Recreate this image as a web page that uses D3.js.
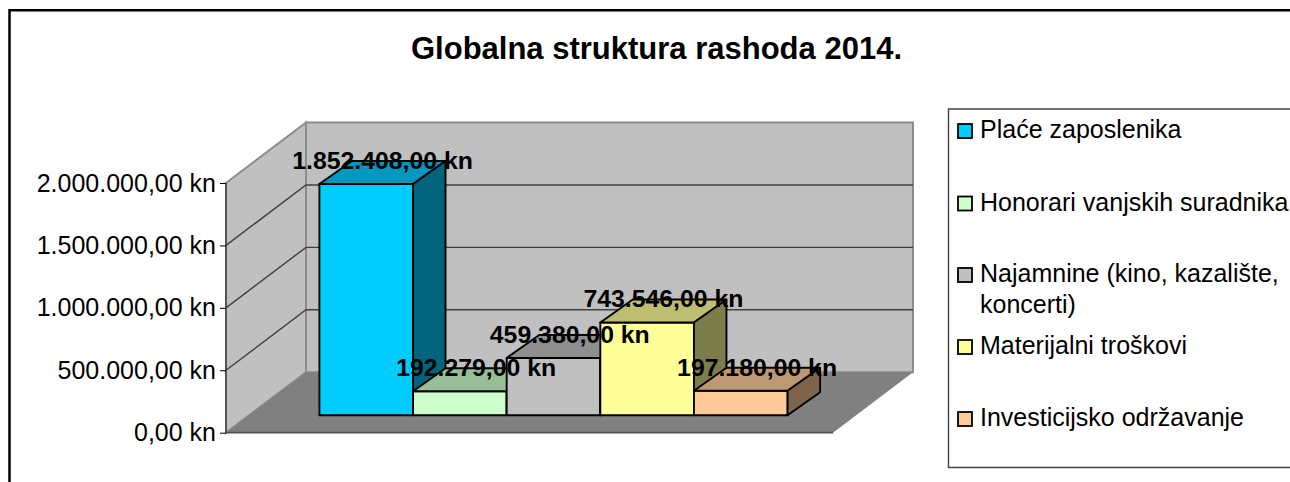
<!DOCTYPE html>
<html>
<head>
<meta charset="utf-8">
<script src="https://cdn.jsdelivr.net/npm/d3@7"></script>
<style>
    html, body { margin: 0; padding: 0; background: #fff; overflow: hidden; }
    text { font-family: "Liberation Sans", Arial, sans-serif; fill: #000; }
</style>
</head>
<body>
<svg id="chart" width="1290" height="482"></svg>
<script>
var title = "Globalna struktura rashoda 2014.";
var categories = ["Plaće zaposlenika", "Honorari vanjskih suradnika", "Najamnine (kino, kazalište, koncerti)", "Materijalni troškovi", "Investicijsko održavanje"];
var values = [1852408, 192279, 459380, 743546, 197180];
var colors = ["#00ccff", "#ccffcc", "#c0c0c0", "#ffff99", "#ffcc99"];
var tickValues = [0, 500000, 1000000, 1500000, 2000000];

var legendLines = [["Plaće zaposlenika"], ["Honorari vanjskih suradnika"], ["Najamnine (kino, kazalište,", "koncerti)"], ["Materijalni troškovi"], ["Investicijsko održavanje"]];
var legendY = [131, 203.5, 275, 347, 419];

var hr = d3.formatLocale({ decimal: ",", thousands: ".", grouping: [3], currency: ["", " kn"] });
var kn = hr.format("$,.2f");

var svg = d3.select("#chart");

// plot geometry
var wallLeft = 226, wallRight = 833;
var depthX = 80, depthY = -60.5;      // floor depth
var barDX = 32.5, barDY = -23;        // depth of one bar
var barShiftY = -17.4;                // bars stand this far back on the floor

var y = d3.scaleLinear().domain([0, 2000000]).range([432.7, 183]);
var x = d3.scaleBand().domain(categories).range([319.4, 787.6]);

function pts(a){
    return a.map(function(p){ return p.join(","); }).join(" ");
}

// frame, only top and left are inside the picture
svg.append("path")
   .attr("d", "M9.5,482V10.2H1290")
   .attr("fill", "none")
   .attr("stroke", "#000")
   .attr("stroke-width", 2.5);

svg.append("text")
   .attr("x", 656.5)
   .attr("y", 59)
   .attr("text-anchor", "middle")
   .style("font-size", "31px")
   .style("font-weight", "bold")
   .text(title);

var plot = svg.append("g");

// back wall
plot.append("polygon")
    .attr("points", pts([[wallLeft + depthX, y(2000000) + depthY], [wallRight + depthX, y(2000000) + depthY], [wallRight + depthX, y(0) + depthY], [wallLeft + depthX, y(0) + depthY]]))
    .attr("fill", "#c0c0c0")
    .attr("stroke", "#8c8c8c")
    .attr("stroke-width", 2);

// side wall
plot.append("polygon")
    .attr("points", pts([[wallLeft, y(2000000)], [wallLeft + depthX, y(2000000) + depthY], [wallLeft + depthX, y(0) + depthY], [wallLeft, y(0)]]))
    .attr("fill", "#c0c0c0")
    .attr("stroke", "#8c8c8c")
    .attr("stroke-width", 2);

// floor
plot.append("polygon")
    .attr("points", pts([[wallLeft, y(0)], [wallRight, y(0)], [wallRight + depthX, y(0) + depthY], [wallLeft + depthX, y(0) + depthY]]))
    .attr("fill", "#808080");

plot.append("line")
    .attr("x1", wallLeft).attr("x2", wallRight)
    .attr("y1", y(0)).attr("y2", y(0))
    .attr("stroke", "#505050")
    .attr("stroke-width", 1.8);

plot.append("line")
    .attr("x1", wallLeft).attr("x2", wallLeft)
    .attr("y1", y(2000000)).attr("y2", y(0))
    .attr("stroke", "#505050")
    .attr("stroke-width", 1.8);

// gridlines
plot.selectAll(".grid")
    .data(tickValues.filter(function(d){ return d > 0 && d < 2000000; }))
    .enter()
    .append("polyline")
    .attr("class", "grid")
    .attr("points", function(d){
        return pts([[wallLeft, y(d)], [wallLeft + depthX, y(d) + depthY], [wallRight + depthX, y(d) + depthY]]);
    })
    .attr("fill", "none")
    .attr("stroke", "#404040")
    .attr("stroke-width", 1.4);

// y axis
var axis = d3.axisLeft(y)
             .tickValues(tickValues)
             .tickSize(6)
             .tickPadding(4)
             .tickFormat(kn);

var axisG = svg.append("g")
               .attr("transform", "translate(" + wallLeft + ",0)")
               .call(axis);
axisG.select(".domain").remove();
axisG.selectAll("text")
     .style("font-size", "25px")
     .attr("dy", "0.32em");

// bars, left to right so the next one covers the side of the previous
var bars = plot.selectAll(".bar")
               .data(values)
               .enter()
               .append("g")
               .attr("class", "bar");

function barX(i){ return x(categories[i]); }

bars.append("rect")
    .attr("x", function(d,i){ return barX(i); })
    .attr("y", function(d){ return y(d) + barShiftY; })
    .attr("width", x.bandwidth())
    .attr("height", function(d){ return y(0) - y(d); })
    .attr("fill", function(d,i){ return colors[i]; });

bars.append("polygon")
    .attr("points", function(d,i){
        var x0 = barX(i), x1 = x0 + x.bandwidth(), t = y(d) + barShiftY;
        return pts([[x0, t], [x1, t], [x1 + barDX, t + barDY], [x0 + barDX, t + barDY]]);
    })
    .attr("fill", function(d,i){ return d3.rgb(colors[i]).darker(0.83); });

bars.append("polygon")
    .attr("points", function(d,i){
        var x1 = barX(i) + x.bandwidth(), t = y(d) + barShiftY, b = y(0) + barShiftY;
        return pts([[x1, t], [x1 + barDX, t + barDY], [x1 + barDX, b + barDY], [x1, b]]);
    })
    .attr("fill", function(d,i){ return d3.rgb(colors[i]).darker(2); });

bars.selectAll("rect, polygon")
    .attr("stroke", "#000")
    .attr("stroke-width", 1.9)
    .attr("stroke-linejoin", "round");

// data labels on top of everything
svg.selectAll(".val")
   .data(values)
   .enter()
   .append("text")
   .attr("class", "val")
   .attr("x", function(d,i){ return barX(i) + x.bandwidth() / 2 + 16.3; })
   .attr("y", function(d){ return y(d) + barShiftY - 15; })
   .attr("text-anchor", "middle")
   .style("font-size", "24.8px")
   .style("font-weight", "bold")
   .text(kn);

// legend
svg.append("path")
   .attr("d", "M1290,109H948.5V467.5H1290")
   .attr("fill", "#fff")
   .attr("stroke", "#404040")
   .attr("stroke-width", 1.4);

var legend = svg.selectAll(".legend")
                .data(categories)
                .enter()
                .append("g")
                .attr("class", "legend");

legend.append("rect")
      .attr("x", 958)
      .attr("y", function(d,i){ return legendY[i] - 7; })
      .attr("width", 14)
      .attr("height", 14)
      .attr("fill", function(d,i){ return colors[i]; })
      .attr("stroke", "#000")
      .attr("stroke-width", 1.8);

legend.each(function(d,i){
    d3.select(this).selectAll("text")
      .data(legendLines[i])
      .enter()
      .append("text")
      .attr("x", 980)
      .attr("y", function(t,j){ return legendY[i] + 7 + j * 31; })
      .style("font-size", "25px")
      .text(function(t){ return t; });
});
</script>
</body>
</html>
